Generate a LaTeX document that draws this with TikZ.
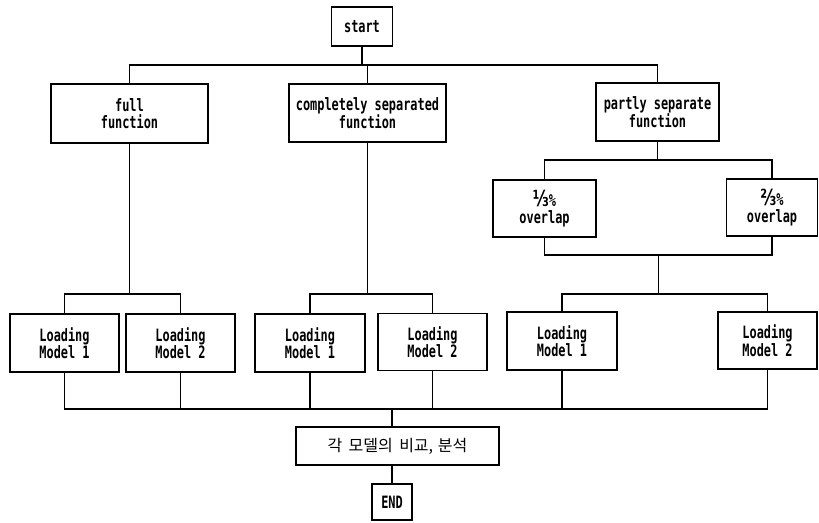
\documentclass[tikz,border=0pt]{standalone}
\usepackage{fontspec}
\newfontfamily\lblfont[FakeStretch=0.7]{DejaVu Sans Mono}
\newfontfamily\fracfont[FakeStretch=0.7,Scale=1.3]{DejaVu Sans}
\newfontfamily\kofont{Noto Sans CJK KR}
\tikzset{
  box/.style={draw, line width=1.1pt, align=center, inner sep=1pt,
    font=\lblfont\bfseries\fontsize{17}{17.5}\selectfont},
  wire/.style={line width=1.1pt}
}
\begin{document}
\begin{tikzpicture}[x=1pt, y=-1pt]
  \useasboundingbox (0,0) rectangle (819,522);
  % Levels of the buses
  \coordinate (topbus) at (0,65);
  \coordinate (ovbus) at (0,160);
  \coordinate (ovbot) at (0,255);
  \coordinate (lmbus) at (0,294);
  \coordinate (bot) at (0,409);

  % Boxes
  \node[box, minimum width=61pt, minimum height=39pt] (start) at (362,26.5) {start};
  \node[box, minimum width=157pt, minimum height=59pt] (full) at (129.5,113.5) {full\\function};
  \node[box, minimum width=157pt, minimum height=58pt] (comp) at (367.5,113) {completely separated\\function};
  \node[box, minimum width=123pt, minimum height=58pt] (part) at (657.5,112) {partly separate\\function};
  \node[box, minimum width=103pt, minimum height=57pt] (ov1) at (544.5,208.5) {{\fracfont\bfseries ⅓}\%\\overlap};
  \node[box, minimum width=91pt, minimum height=57pt] (ov2) at (772,207.5) {{\fracfont\bfseries ⅔}\%\\overlap};
  \node[box, minimum width=109pt, minimum height=58pt] (l1a) at (64.5,343) {Loading\\Model 1};
  \node[box, minimum width=109pt, minimum height=58pt] (l2a) at (180.5,343) {Loading\\Model 2};
  \node[box, minimum width=110pt, minimum height=58pt] (l1b) at (310,343) {Loading\\Model 1};
  \node[box, minimum width=109pt, minimum height=57pt] (l2b) at (432.5,342) {Loading\\Model 2};
  \node[box, minimum width=110pt, minimum height=58pt] (l1c) at (562,341) {Loading\\Model 1};
  \node[box, minimum width=99pt, minimum height=57pt] (l2c) at (767.5,340.5) {Loading\\Model 2};
  \node[box, minimum width=203pt, minimum height=38pt, font=\kofont\fontsize{16}{17}\selectfont] (cmp) at (397.5,446) {각\hspace{0.4em}모델의\hspace{0.4em}비교,\hspace{0.3em}분석};
  \node[box, minimum width=40pt, minimum height=36pt] (end) at (392,502) {END};

  % Top branch
  \draw[wire] (start.south) -- (start.south |- topbus);
  \draw[wire] (full.north) -- (full.north |- topbus) -| (part.north);
  \draw[wire] (comp.north) -- (comp.north |- topbus);

  % Partly separate branch
  \draw[wire] (part.south) -- (part.south |- ovbus);
  \draw[wire] (ov1.north) -- (ov1.north |- ovbus) -| (ov2.north);
  \draw[wire] (ov1.south) -- (ov1.south |- ovbot) -| (ov2.south);
  \path (ov1.south |- ovbot) -- (ov2.south |- ovbot) coordinate[midway] (ovmid);
  \draw[wire] (ovmid) -- (ovmid |- lmbus);

  % Loading models
  \draw[wire] (full.south) -- (full.south |- lmbus);
  \draw[wire] (l1a.north) -- (l1a.north |- lmbus) -| (l2a.north);
  \draw[wire] (comp.south) -- (comp.south |- lmbus);
  \draw[wire] (l1b.north) -- (l1b.north |- lmbus) -| (l2b.north);
  \draw[wire] (l1c.north) -- (l1c.north |- lmbus) -| (l2c.north);

  % Bottom collection
  \draw[wire] (l1a.south) -- (l1a.south |- bot) -| (l2c.south);
  \foreach \n in {l2a,l1b,l2b,l1c}
    \draw[wire] (\n.south) -- (\n.south |- bot);
  \draw[wire] (end.north |- bot) -- (end.north |- cmp.north);
  \draw[wire] (end.north |- cmp.south) -- (end.north);
\end{tikzpicture}
\end{document}
